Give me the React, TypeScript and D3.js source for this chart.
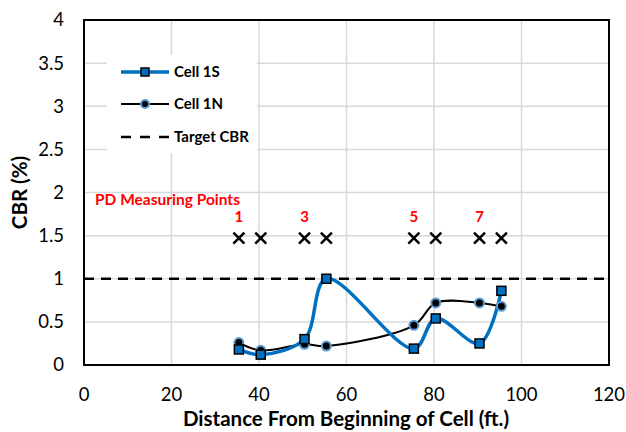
import React from "react";
import * as d3 from "d3";

// Distance along the cell (ft.) for each measuring location
const distances = [35.4, 40.4, 50.4, 55.4, 75.4, 80.4, 90.4, 95.4];
// CBR (%) measured in each cell
const cell1S = [0.18, 0.12, 0.3, 1.0, 0.19, 0.54, 0.25, 0.86];
const cell1N = [0.26, 0.17, 0.24, 0.22, 0.46, 0.72, 0.72, 0.68];
const targetCBR = 1;
// PD measuring point marks
const pdLevel = 1.47;
const pdLabels = ["1", "", "3", "", "5", "", "7", ""];

const xTicks = [0, 20, 40, 60, 80, 100, 120];
const yTicks = [0, 0.5, 1, 1.5, 2, 2.5, 3, 3.5, 4];

const W = 626;
const H = 432;
const FONT = "Lato, 'Open Sans', sans-serif";
const BLUE = "#0070C0";
const RING = "#5B9BD5";

export default function App() {
  const x = d3.scaleLinear().domain([0, 120]).range([84, 609]);
  const y = d3.scaleLinear().domain([0, 4]).range([365, 20]);

  const line = d3
    .line<number>()
    .x((_, i) => x(distances[i]))
    .y((d) => y(d))
    .curve(d3.curveCatmullRom.alpha(0.5));

  const legendX1 = 121;
  const legendX2 = 169;

  return (
    <svg
      width={W}
      height={H}
      style={{ position: "absolute", left: 0, top: 0, background: "#fff" }}
      fontFamily={FONT}
    >
      {/* grid */}
      {xTicks.map((t) => (
        <line key={"gx" + t} x1={x(t)} x2={x(t)} y1={y(4)} y2={y(0)} stroke="#d9d9d9" strokeWidth={1.5} />
      ))}
      {yTicks.map((t) => (
        <line key={"gy" + t} x1={x(0)} x2={x(120)} y1={y(t)} y2={y(t)} stroke="#d9d9d9" strokeWidth={1.5} />
      ))}

      {/* legend background hides the grid behind its entries */}
      <rect x={107} y={55} width={150} height={98} fill="#fff" />

      {/* plot border */}
      <rect x={x(0)} y={y(4)} width={x(120) - x(0)} height={y(0) - y(4)} fill="none" stroke="#000" strokeWidth={2} />

      {/* tick labels */}
      {yTicks.map((t) => (
        <text key={"ty" + t} x={64} y={y(t)} dy="0.35em" textAnchor="end" fontSize={18.5} fill="#000">
          {t}
        </text>
      ))}
      {xTicks.map((t) => (
        <text key={"tx" + t} x={x(t)} y={395} dy="0.35em" textAnchor="middle" fontSize={18.5} fill="#000">
          {t}
        </text>
      ))}

      {/* axis titles */}
      <text x={346} y={419} dy="0.35em" textAnchor="middle" fontSize={20.5} fontWeight="bold">
        Distance From Beginning of Cell (ft.)
      </text>
      <text
        transform={`translate(20,${(y(0) + y(4)) / 2}) rotate(-90)`}
        textAnchor="middle"
        dy="0.35em"
        fontSize={20.5}
        fontWeight="bold"
      >
        CBR (%)
      </text>

      {/* target line */}
      <line x1={x(0)} x2={x(120)} y1={y(targetCBR)} y2={y(targetCBR)} stroke="#000" strokeWidth={2.5} strokeDasharray="10,7" />

      {/* PD measuring points */}
      <text x={95} y={200} dy="0.35em" fontSize={15.5} fontWeight="bold" fill="#ff0000">
        PD Measuring Points
      </text>
      {distances.map((d, i) => (
        <g key={"pd" + i} transform={`translate(${x(d)},${y(pdLevel)})`}>
          <line x1={-5.5} y1={-5.5} x2={5.5} y2={5.5} stroke="#000" strokeWidth={2.5} />
          <line x1={-5.5} y1={5.5} x2={5.5} y2={-5.5} stroke="#000" strokeWidth={2.5} />
          {pdLabels[i] && (
            <text y={-21} dy="0.35em" textAnchor="middle" fontSize={15} fontWeight="bold" fill="#ff0000">
              {pdLabels[i]}
            </text>
          )}
        </g>
      ))}

      {/* series lines */}
      <path d={line(cell1N) || ""} fill="none" stroke="#000" strokeWidth={2} />
      <path d={line(cell1S) || ""} fill="none" stroke={BLUE} strokeWidth={3.5} />

      {/* markers */}
      {cell1N.map((v, i) => (
        <circle key={"n" + i} cx={x(distances[i])} cy={y(v)} r={4.5} fill="#000" stroke={RING} strokeWidth={2} />
      ))}
      {cell1S.map((v, i) => (
        <rect
          key={"s" + i}
          x={x(distances[i]) - 4.5}
          y={y(v) - 4.5}
          width={9}
          height={9}
          fill={BLUE}
          stroke="#000"
          strokeWidth={1.5}
        />
      ))}

      {/* legend */}
      <g>
        <line x1={legendX1} x2={legendX2} y1={72} y2={72} stroke={BLUE} strokeWidth={3.5} />
        <rect x={145 - 4} y={72 - 4} width={8} height={8} fill={BLUE} stroke="#000" strokeWidth={1.5} />
        <text x={174} y={72} dy="0.35em" fontSize={15} fontWeight="bold">Cell 1S</text>

        <line x1={legendX1} x2={legendX2} y1={104} y2={104} stroke="#000" strokeWidth={2} />
        <circle cx={145} cy={104} r={4} fill="#000" stroke={RING} strokeWidth={2} />
        <text x={174} y={104} dy="0.35em" fontSize={15} fontWeight="bold">Cell 1N</text>

        <line x1={legendX1} x2={legendX2} y1={137} y2={137} stroke="#000" strokeWidth={2.5} strokeDasharray="10,9" />
        <text x={174} y={137} dy="0.35em" fontSize={15} fontWeight="bold">Target CBR</text>
      </g>
    </svg>
  );
}
